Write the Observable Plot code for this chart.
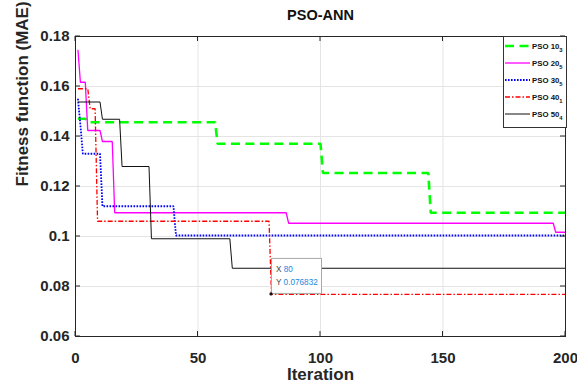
<!DOCTYPE html>
<html><head><meta charset="utf-8">
<script src="https://cdn.jsdelivr.net/npm/d3@7"></script>
<script src="https://cdn.jsdelivr.net/npm/@observablehq/plot@0.6"></script>
<style>body{margin:0;background:#fff} svg{display:block}</style>
</head><body><div id="chart"></div>
<script>
// ---- data ----
const title = "PSO-ANN";
const xLabel = "Iteration";
const yLabel = "Fitness function (MAE)";
const seriesNames = ["PSO 10", "PSO 20", "PSO 30", "PSO 40", "PSO 50"];
const seriesSubs = ["3", "5", "5", "1", "4"];
const lastIter = 200;
// iteration at which each new best value is reached, and that value
const iter10 = [1, 5, 58, 101, 145];
const val10  = [0.1471, 0.1457, 0.1371, 0.1254, 0.1095];
const iter20 = [1, 2, 5, 11, 16, 87, 196];
const val20  = [0.1747, 0.1617, 0.1424, 0.1380, 0.1095, 0.1053, 0.1017];
const iter30 = [1, 2, 3, 11, 41];
const val30  = [0.1551, 0.1445, 0.1331, 0.1121, 0.1004];
const iter40 = [1, 6, 9, 80];
const val40  = [0.1591, 0.1511, 0.1061, 0.076832];
const iter50 = [1, 11, 19, 31, 64];
const val50  = [0.1538, 0.1469, 0.1280, 0.0991, 0.0873];
const xTicks = [0, 50, 100, 150, 200];
const xTickLabels = ["0", "50", "100", "150", "200"];
const yTicks = [0.06, 0.08, 0.1, 0.12, 0.14, 0.16, 0.18];
const yTickLabels = ["0.06", "0.08", "0.1", "0.12", "0.14", "0.16", "0.18"];
const tipIter = 80;
const tipValue = 0.076832;

// ---- styles ----
const styles = [
  {stroke: "#00ff00", strokeWidth: 2.6, dash: "9,5.5"},
  {stroke: "#ff00ff", strokeWidth: 1.3, dash: null},
  {stroke: "#0000ff", strokeWidth: 1.8, dash: "1.6,1.4"},
  {stroke: "#ff0000", strokeWidth: 1.3, dash: "5,2,1.5,2"},
  {stroke: "#111111", strokeWidth: 1.0, dash: null}
];

// expand "best so far" records into the per-iteration polyline
function expand(iters, vals) {
  const pts = [{x: iters[0], y: vals[0]}];
  for (let i = 1; i < iters.length; i++) {
    pts.push({x: iters[i] - 1, y: vals[i - 1]});
    pts.push({x: iters[i], y: vals[i]});
  }
  pts.push({x: lastIter, y: vals[vals.length - 1]});
  return pts;
}
const seriesData = [
  expand(iter10, val10), expand(iter20, val20), expand(iter30, val30),
  expand(iter40, val40), expand(iter50, val50)
];

const font = "'Liberation Sans', Arial, Helvetica, sans-serif";
const ink = "#262626";

// inward ticks on all four sides
function inwardTicks(index, scales, values, dims) {
  const g = d3.create("svg:g").attr("stroke", ink).attr("stroke-width", 1);
  const L = 5;
  const left = dims.marginLeft, right = dims.width - dims.marginRight;
  const top = dims.marginTop, bottom = dims.height - dims.marginBottom;
  for (const t of xTicks) {
    const px = scales.x(t);
    g.append("line").attr("x1", px).attr("x2", px).attr("y1", bottom).attr("y2", bottom - L);
    g.append("line").attr("x1", px).attr("x2", px).attr("y1", top).attr("y2", top + L);
  }
  for (const t of yTicks) {
    const py = scales.y(t);
    g.append("line").attr("x1", left).attr("x2", left + L).attr("y1", py).attr("y2", py);
    g.append("line").attr("x1", right).attr("x2", right - L).attr("y1", py).attr("y2", py);
  }
  return g.node();
}

// data tip box
function dataTip(index, scales, values, dims) {
  const px = scales.x(tipIter), py = scales.y(tipValue);
  const g = d3.create("svg:g").attr("font-family", font).attr("text-anchor", "start");
  g.append("rect").attr("x", px + 0.5).attr("y", py - 35.5).attr("width", 50).attr("height", 35)
    .attr("fill", "#ffffff").attr("fill-opacity", 1).attr("stroke", "#a8a8a8").attr("stroke-width", 1);
  const t1 = g.append("text").attr("x", px + 5).attr("y", py - 22).attr("font-size", 8.2);
  t1.append("tspan").attr("fill", "#444").text("X ");
  t1.append("tspan").attr("fill", "#2088e0").text(String(tipIter));
  const t2 = g.append("text").attr("x", px + 5).attr("y", py - 8.8).attr("font-size", 8.2);
  t2.append("tspan").attr("fill", "#444").text("Y ");
  t2.append("tspan").attr("fill", "#2088e0").text(String(tipValue));
  g.append("circle").attr("cx", px).attr("cy", py).attr("r", 1.6).attr("fill", "#111");
  return g.node();
}

// legend box
function legend(index, scales, values, dims) {
  const right = dims.width - dims.marginRight;
  const x0 = right - 62, y0 = dims.marginTop;
  const g = d3.create("svg:g").attr("font-family", font).attr("text-anchor", "start");
  g.append("rect").attr("x", x0 + 0.5).attr("y", y0 + 0.5).attr("width", 63).attr("height", 91)
    .attr("fill", "#ffffff").attr("stroke", "#333").attr("stroke-width", 1);
  seriesNames.forEach((name, i) => {
    const s = styles[i];
    const ly = y0 + 10 + 17 * i;
    g.append("line").attr("x1", x0 + 2).attr("x2", x0 + 27).attr("y1", ly).attr("y2", ly)
      .attr("stroke", s.stroke).attr("stroke-width", s.strokeWidth)
      .attr("stroke-dasharray", s.dash);
    const t = g.append("text").attr("x", x0 + 29).attr("y", ly + 2.7)
      .attr("font-size", 7.8).attr("font-weight", "bold").attr("fill", "#111");
    t.append("tspan").text(name);
    t.append("tspan").attr("font-size", 5.8).attr("dy", 3.5).text(seriesSubs[i]);
  });
  return g.node();
}

const lineMarks = seriesData.map((d, i) => Plot.line(d, {
  x: "x", y: "y", stroke: styles[i].stroke, strokeWidth: styles[i].strokeWidth,
  strokeDasharray: styles[i].dash, strokeLinejoin: "miter", strokeLinecap: "butt"
}));

const chart = Plot.plot({
  width: 577,
  height: 383,
  marginLeft: 75,
  marginRight: 12,
  marginTop: 36,
  marginBottom: 47,
  style: {fontFamily: font, background: "#fff", color: ink, overflow: "visible"},
  x: {domain: [0, 200]},
  y: {domain: [0.06, 0.18]},
  marks: [
    Plot.gridX(xTicks, {stroke: "#e4e4e4", strokeOpacity: 1}),
    Plot.gridY(yTicks, {stroke: "#e4e4e4", strokeOpacity: 1}),
    ...lineMarks,
    Plot.frame({stroke: ink, strokeWidth: 1}),
    inwardTicks,
    Plot.axisX(xTicks, {tickSize: 0, tickPadding: 16, fontSize: 15, fontWeight: "bold",
      tickFormat: d => xTickLabels[xTicks.indexOf(d)], label: null}),
    Plot.axisY(yTicks, {tickSize: 0, tickPadding: 6, fontSize: 15, fontWeight: "bold",
      tickFormat: d => yTickLabels[yTicks.indexOf(d)], label: null}),
    Plot.text([title], {text: d => d, frameAnchor: "top", lineAnchor: "bottom", dy: -17,
      fontSize: 14.5, fontWeight: "bold", fill: "#111"}),
    Plot.text([xLabel], {text: d => d, frameAnchor: "bottom", lineAnchor: "bottom", dy: 43,
      fontSize: 17, fontWeight: "bold", fill: ink}),
    Plot.text([yLabel], {text: d => d, frameAnchor: "left", lineAnchor: "bottom", rotate: -90, dx: -48,
      fontSize: 17, fontWeight: "bold", fill: ink}),
    dataTip,
    legend
  ]
});
document.getElementById("chart").appendChild(chart);
</script>
</body></html>
